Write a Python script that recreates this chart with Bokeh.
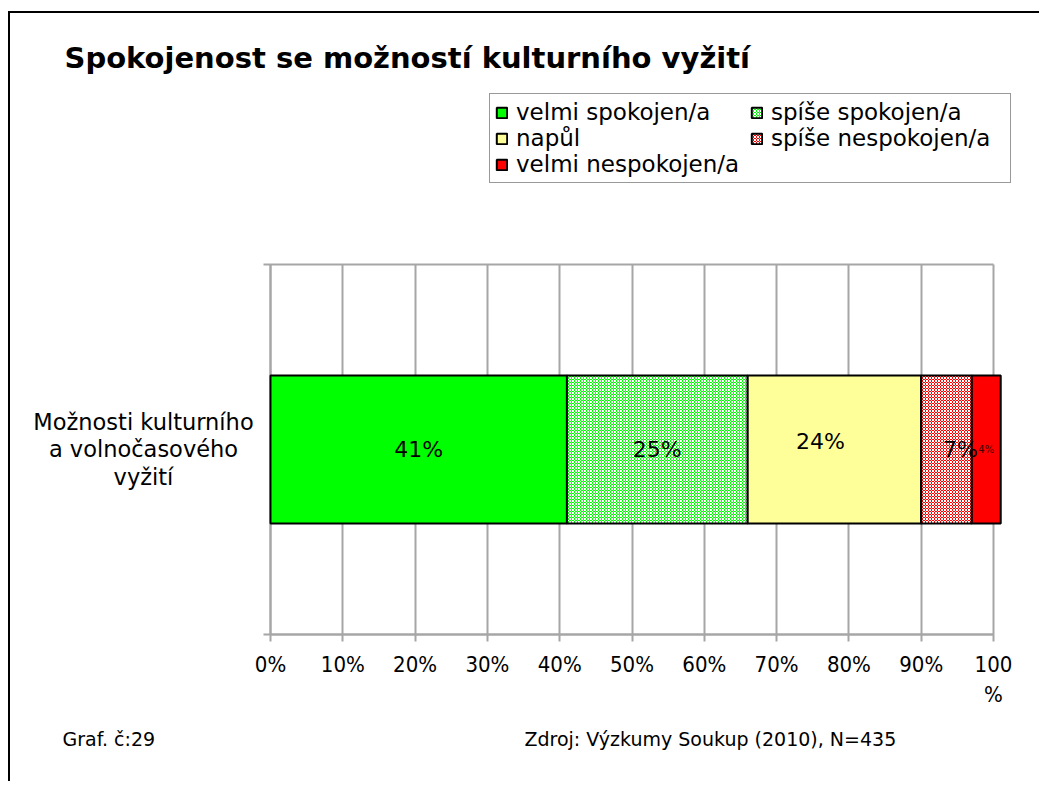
from bokeh.plotting import figure
from bokeh.models import (Range1d, FixedTicker, Legend, LegendItem, Label,
                          ColumnDataSource)
from bokeh.core.properties import value
from bokeh.embed import file_html
from bokeh.resources import INLINE

# ---------------- data ----------------
title_text = "Spokojenost se možností kulturního vyžití"
category = "Možnosti kulturního\na volnočasového\nvyžití"
series = ["velmi spokojen/a", "spíše spokojen/a", "napůl",
          "spíše nespokojen/a", "velmi nespokojen/a"]
values = [41, 25, 24, 7, 4]
value_labels = ["41%", "25%", "24%", "7%", "4%"]
x_ticks = [0, 10, 20, 30, 40, 50, 60, 70, 80, 90, 100]
x_tick_labels = ["0%", "10%", "20%", "30%", "40%", "50%", "60%", "70%",
                 "80%", "90%", "100\n%"]
note_left = "Graf. č:29"
note_right = "Zdroj: Výzkumy Soukup (2010), N=435"

# ---------------- style / layout ----------------
colors = ["#00ff00", "#00ff00", "#ffff99", "#ff0000", "#ff0000"]
hatches = [None, "x", None, "x", None]
label_dx = [0, 0, -14, 14, 0]
label_dy = [0, 0, -8, 0, 0]
label_sizes = ["22px", "22px", "22px", "22px", "10px"]
label_colors = ["#000000", "#000000", "#000000", "#000000", "#3a0000"]
FONT = "DejaVu Sans"
TICK_FONT = "'DejaVu Sans Condensed', 'Liberation Sans'"
GRID = "#a6a6a6"

W, H = 1031, 770
# plot area in canvas pixels
PL, PR, PT, PB = 260, 983, 251, 621
xs = (PR - PL) / 100.0
ys = (PB - PT) / 1.0
x_range = Range1d(-PL / xs, (W - PL) / xs)
y_range = Range1d(-(H - PB) / ys, PB / ys)

p = figure(width=W, height=H, output_backend="svg", toolbar_location=None,
           x_range=x_range, y_range=y_range,
           min_border=0, min_border_left=0, min_border_right=0,
           min_border_top=0, min_border_bottom=0)
p.styles = {"margin-left": "8px", "margin-top": "11px",
            "border-left": "2px solid black", "border-top": "2px solid black"}
p.outline_line_color = None
p.background_fill_color = "white"
p.border_fill_color = "white"
p.grid.visible = False

# stacked bars
row_y = 0.5
starts = []
acc = 0
for v in values:
    starts.append(acc)
    acc += v

items = []
for i, name in enumerate(series):
    kw = dict(fill_color=colors[i], line_color="black", line_width=2)
    if hatches[i]:
        kw.update(hatch_pattern=hatches[i], hatch_color="white",
                  hatch_scale=3, hatch_weight=1)
    r = p.hbar(y=[row_y], left=[starts[i]], right=[starts[i] + values[i]],
               height=0.4, **kw)
    items.append(LegendItem(label=name, renderers=[r]))

src = ColumnDataSource(dict(
    x=[s + v / 2 for s, v in zip(starts, values)],
    y=[row_y] * len(values),
    text=value_labels, dx=label_dx, dy=label_dy,
    size=label_sizes, color=label_colors))
p.text(x="x", y="y", text="text", x_offset="dx", y_offset="dy",
       text_font_size="size", text_color="color", text_align="center",
       text_baseline="middle", text_font=value(FONT), source=src)

# x axis (ticks drawn inward act as vertical gridlines)
xa = p.xaxis[0]
xa.fixed_location = 0
xa.level = "underlay"
xa.ticker = FixedTicker(ticks=x_ticks)
xa.bounds = (0, 100)
xa.major_label_overrides = {t: l for t, l in zip(x_ticks, x_tick_labels)}
xa.axis_line_color = GRID
xa.axis_line_width = 2
xa.major_tick_line_color = GRID
xa.major_tick_line_width = 2
xa.major_tick_out = 7
xa.major_tick_in = PB - PT
xa.minor_tick_line_color = None
xa.major_label_standoff = 10
xa.major_label_text_font = TICK_FONT
xa.major_label_text_font_size = "22px"
xa.major_label_text_color = "black"

# y axis (ticks at the category band edges, top one drawn across)
ya = p.yaxis[0]
ya.fixed_location = 0
ya.level = "underlay"
ya.ticker = FixedTicker(ticks=[0, 1])
ya.bounds = (0, 1)
ya.major_label_overrides = {0: "", 1: ""}
ya.axis_line_color = GRID
ya.axis_line_width = 2
ya.major_tick_line_color = GRID
ya.major_tick_line_width = 2
ya.major_tick_out = 7
ya.major_tick_in = PR - PL
ya.minor_tick_line_color = None

# legend
legend = Legend(items=items, location=(479, H - 170), orientation="horizontal",
                ncols=2, margin=0, padding=5, spacing=0,
                label_text_font=FONT, label_text_font_size="23px",
                label_text_color="black", label_width=234,
                glyph_width=13, glyph_height=13, label_standoff=8,
                border_line_color="#333333", border_line_width=1,
                background_fill_color="white", background_fill_alpha=1)
p.add_layout(legend)

# texts
p.add_layout(Label(x=54, y=H - 44, x_units="screen", y_units="screen",
                   text=title_text, text_font=FONT, text_font_style="bold",
                   text_font_size="29px", text_baseline="middle",
                   text_color="black"))
p.add_layout(Label(x=133, y=row_y, x_units="screen", y_units="data",
                   text=category, text_font=FONT, text_font_size="22.5px",
                   text_align="center", text_baseline="middle",
                   text_line_height=1.05, text_color="black"))
p.add_layout(Label(x=52, y=H - 725, x_units="screen", y_units="screen",
                   text=note_left, text_font=FONT, text_font_size="19px",
                   text_baseline="middle", text_color="black"))
p.add_layout(Label(x=514, y=H - 725, x_units="screen", y_units="screen",
                   text=note_right, text_font=FONT, text_font_size="19px",
                   text_baseline="middle", text_color="black"))

open("out.html", "w").write(file_html(p, INLINE))
